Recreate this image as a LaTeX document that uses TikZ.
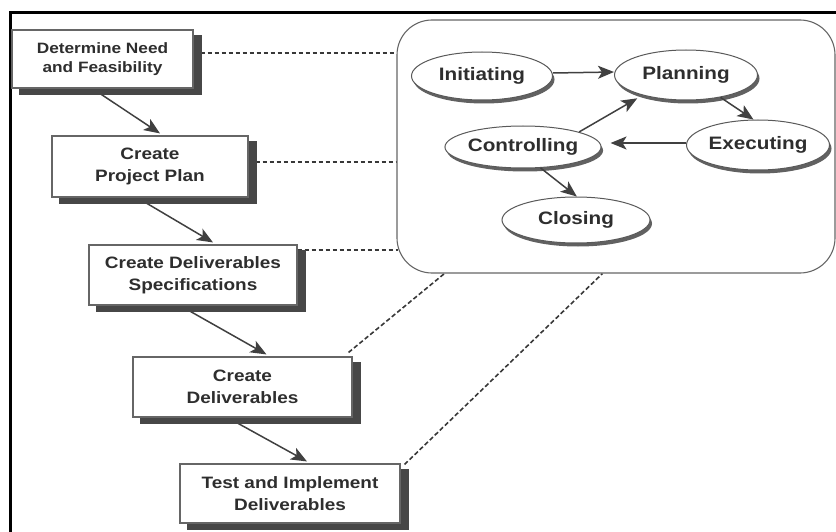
\documentclass[tikz,border=0pt]{standalone}
\usepackage{fontspec}
\setmainfont{Liberation Sans}[FakeStretch=1.15]
\usetikzlibrary{arrows.meta,shapes.geometric,shadows,backgrounds}

\begin{document}
\begin{tikzpicture}[x=1pt,y=-1pt,
  stage/.style={rectangle, draw=black!60, line width=1.1pt, fill=white,
    align=center, inner sep=0pt, text=black!82,
    font=\bfseries\fontsize{16.5}{21.5}\selectfont},
  stageshade/.style={fill=black!72},
  phase/.style={ellipse, draw=black!65, line width=1pt, fill=white,
    inner sep=0pt, text=black!82,
    font=\bfseries\fontsize{18}{20}\selectfont,
    drop shadow={shadow xshift=2pt, shadow yshift=-3.5pt, fill=black!62, opacity=1}},
  flow/.style={line width=1.5pt, draw=black!75,
    -{Stealth[length=16pt,width=13pt,inset=4pt]}},
  link/.style={line width=1.6pt, draw=black!78, dash pattern=on 4.5pt off 2.5pt}
]
\useasboundingbox (0,0) rectangle (836,532);

% page frame
\draw[line width=3pt] (10,532) -- (10,13) -- (836,13);

% project life-cycle stages
\node[stage, minimum width=181pt, minimum height=58pt,
      font=\bfseries\fontsize{15}{19}\selectfont] (b1) at (102.5,59)
      {Determine Need\\and Feasibility};
\node[stage, minimum width=196pt, minimum height=61pt] (b2) at (150,166.5)
      {Create\\Project Plan};
\node[stage, minimum width=208pt, minimum height=60pt] (b3) at (193,275)
      {Create Deliverables\\Specifications};
\node[stage, minimum width=219pt, minimum height=60pt] (b4) at (242.5,387)
      {Create\\Deliverables};
\node[stage, minimum width=220pt, minimum height=59pt] (b5) at (290,493.5)
      {Test and Implement\\Deliverables};

% process group container
\node[draw=black!60, line width=1.1pt, rounded corners=35pt, inner sep=0pt,
      minimum width=438pt, minimum height=253pt] (grp) at (616,146.5) {};

% process groups
\node[phase, minimum width=141pt, minimum height=48pt] (init)  at (482,76)  {Initiating};
\node[phase, minimum width=143pt, minimum height=50pt] (plan)  at (686,75)  {Planning};
\node[phase, minimum width=147pt, minimum height=42pt] (ctrl)  at (523,147) {Controlling};
\node[phase, minimum width=143pt, minimum height=50pt] (exec)  at (758,145) {Executing};
\node[phase, minimum width=148pt, minimum height=46pt] (close) at (576,220) {Closing};

\coordinate (d4) at ([xshift=48pt]grp.south west);
\coordinate (d5) at ([xshift=206pt]grp.south west);

\begin{pgfonlayer}{background}
  % stage sequence
  \draw[flow] ([xshift=-10pt]b1.south) -- ([xshift=10pt,yshift=2pt]b2.north);
  \draw[flow] ([xshift=-13pt]b2.south) -- ([xshift=20pt,yshift=2pt]b3.north);
  \draw[flow] ([xshift=-13pt]b3.south) -- ([xshift=24pt,yshift=2pt]b4.north);
  \draw[flow] ([xshift=-15pt]b4.south) -- ([xshift=17pt,yshift=2pt]b5.north);
  % links from stages to the process groups
  \draw[link] ([yshift=6pt]b1.east) -- ([yshift=6pt]b1.east -| grp.west);
  \draw[link] ([yshift=4.5pt]b2.east) -- ([yshift=4.5pt]b2.east -| grp.west);
  \draw[link] ([yshift=25pt]b3.east) -- ([yshift=25pt,xshift=2pt]b3.east -| grp.west);
  \draw[link] ([xshift=-4pt,yshift=4pt]b4.north east) -- (d4);
  \draw[link] ([xshift=4pt,yshift=-1pt]b5.north east) -- (d5);
  % offset shadows of the stage boxes
  \foreach \b in {b1,b2,b3,b4,b5}
    \fill[stageshade] ([shift={(8pt,-6pt)}]\b.south west)
                      rectangle ([shift={(8pt,-6pt)}]\b.north east);
\end{pgfonlayer}

% process group interactions
\draw[flow] ([yshift=3pt]init.east) -- ([yshift=3pt]plan.west);
\draw[flow] (plan.-33) -- (exec.100);
\draw[flow, shorten >=9pt] ([yshift=2pt]exec.west) -- ([yshift=2pt]exec.west -| ctrl.east);
\draw[flow, shorten >=6pt] (ctrl.15) -- (plan.205);
\draw[flow] (ctrl.-50) -- (close.88);
\end{tikzpicture}
\end{document}
